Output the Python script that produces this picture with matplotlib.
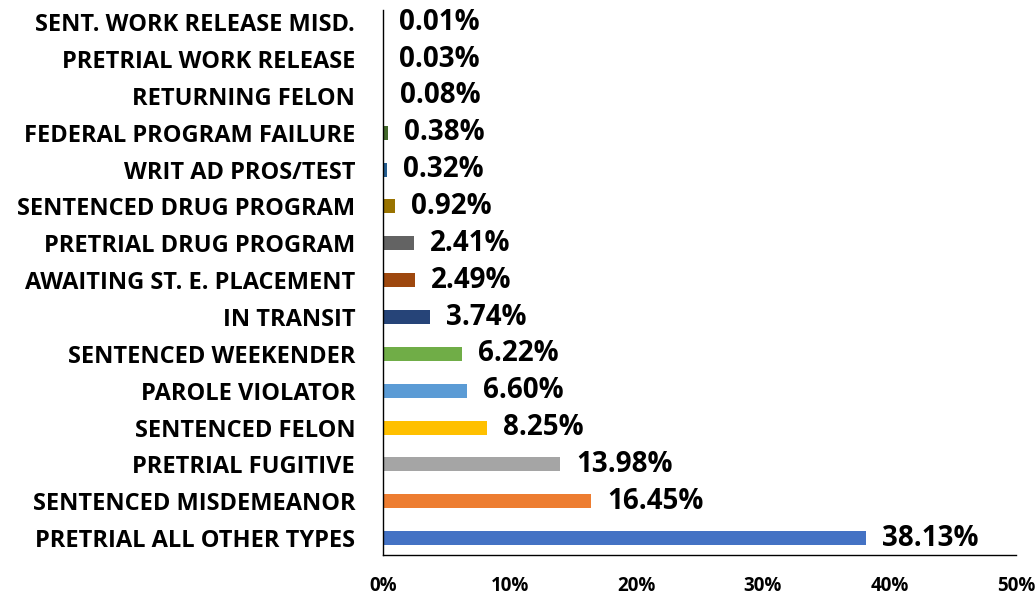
import matplotlib.pyplot as plt

categories = ['PRETRIAL ALL OTHER TYPES', 'SENTENCED MISDEMEANOR', 'PRETRIAL FUGITIVE',
              'SENTENCED FELON', 'PAROLE VIOLATOR', 'SENTENCED WEEKENDER', 'IN TRANSIT',
              'AWAITING ST. E. PLACEMENT', 'PRETRIAL DRUG PROGRAM', 'SENTENCED DRUG PROGRAM',
              'WRIT AD PROS/TEST', 'FEDERAL PROGRAM FAILURE', 'RETURNING FELON',
              'PRETRIAL WORK RELEASE', 'SENT. WORK RELEASE MISD.']
values = [38.13, 16.45, 13.98, 8.25, 6.60, 6.22, 3.74, 2.49, 2.41, 0.92, 0.32, 0.38, 0.08, 0.03, 0.01]
colors = ['#4472C4', '#ED7D31', '#A5A5A5', '#FFC000', '#5B9BD5', '#70AD47', '#264478',
          '#9E480E', '#636363', '#997300', '#255E91', '#43682B', '#698ED0', '#F1975A', '#B7B7B7']
ticks = [0, 10, 20, 30, 40, 50]

plt.rcParams['font.family'] = ['Open Sans', 'DejaVu Sans']
plt.rcParams['font.weight'] = 'bold'

fig = plt.figure(figsize=(10.36, 5.97), dpi=100)
ax = fig.add_axes([0.3697, 0.0704, 0.9807 - 0.3697, 0.983 - 0.0704])

y = list(range(len(categories)))
ax.barh(y, values, height=0.38, color=colors)
for yi, v in zip(y, values):
    ax.annotate(f'{v:.2f}%', (v, yi), xytext=(11.5, 0), textcoords='offset points',
                va='center', ha='left', fontsize=20, fontweight='bold')

ax.set_xlim(0, 50)
ax.set_ylim(-0.46, 14.33)
ax.set_yticks(y)
ax.set_yticklabels(categories, fontsize=17, fontweight='bold')
ax.set_xticks(ticks)
ax.set_xticklabels([f'{t}%' for t in ticks], fontsize=13.5, fontweight='bold')
ax.tick_params(axis='y', length=0, pad=20)
ax.tick_params(axis='x', length=0, pad=15)
for s in ['top', 'right']:
    ax.spines[s].set_visible(False)
for s in ['left', 'bottom']:
    ax.spines[s].set_color('black')
    ax.spines[s].set_linewidth(1.0)

plt.savefig('out.png', dpi=100)
